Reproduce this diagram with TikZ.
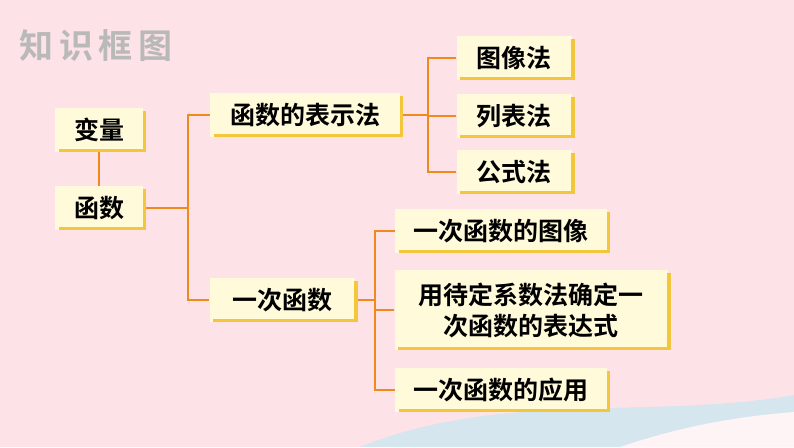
\documentclass[tikz,border=0pt]{standalone}
\usepackage{fontspec}
\newfontfamily\cjk{Noto Sans CJK SC}
\newfontfamily\cjkb{Noto Sans CJK SC Bold}
\definecolor{bg}{HTML}{FDE3E8}
\definecolor{wave}{HTML}{D6E6EE}
\definecolor{boxf}{HTML}{FFFBDA}
\definecolor{shad}{HTML}{F4C63C}
\definecolor{ln}{HTML}{EE8A1E}
\tikzset{
 bx/.style={fill=boxf, minimum height=44pt, inner xsep=6pt, font=\cjkb\fontsize{25}{31}\selectfont, text=black},
 cn/.style={draw=ln, line width=2pt},
 sh/.style={draw=shad, line width=3.5pt}
}
\begin{document}
\begin{tikzpicture}[x=1pt,y=-1pt]
\fill[bg] (0,0) rectangle (794,447);
\fill[wave] (360,447) .. controls (500,390) and (650,420) .. (794,395) -- (794,447) -- cycle;
\fill[white!60!bg] (620,447) .. controls (700,420) and (760,415) .. (794,412) -- (794,447) -- cycle;
\node[font=\cjkb\fontsize{34}{34}\selectfont, text=gray!55, anchor=west] (t) at (16,46) {知\,识\,框\,图};
\node[bx, minimum width=88pt] (bl) at (99,130) {变量};
\node[bx, minimum width=88pt] (hs) at (99,208) {函数};
\node[bx, minimum width=190pt] (bs) at (305,115) {函数的表示法};
\node[bx, minimum width=145pt] (yc) at (282,300) {一次函数};
\node[bx, minimum width=115pt] (tx) at (514,58) {图像法};
\node[bx, minimum width=115pt] (lb) at (514,116) {列表法};
\node[bx, minimum width=115pt] (gs) at (514,172) {公式法};
\node[bx, minimum width=212pt] (y1) at (501,231) {一次函数的图像};
\node[bx, minimum width=273pt, minimum height=80pt, align=center] (y2) at (531,310) {用待定系数法确定一\\次函数的表达式};
\node[bx, minimum width=212pt] (y3) at (501,390) {一次函数的应用};
\foreach \n in {bl,hs,bs,yc,tx,lb,gs,y1,y2,y3}
  \draw[sh] ([xshift=1.5pt,yshift=-3pt]\n.north east) -- ([xshift=1.5pt,yshift=1.5pt]\n.south east) -- ([xshift=4pt,yshift=1.5pt]\n.south west);
\coordinate (j1) at (188,208);
\coordinate (j2) at (428,115);
\coordinate (j3) at (375,300);
\draw[cn] (bl.south) -- (hs.north);
\draw[cn] ([xshift=3pt]hs.east) -- (j1);
\draw[cn] (bs.west) -| (j1) |- (yc.west);
\draw[cn] ([xshift=3pt]bs.east) -- (j2);
\draw[cn] (tx.west) -| (j2) |- (gs.west);
\draw[cn] (lb.west) -- (j2 |- lb.west);
\draw[cn] ([xshift=3pt]yc.east) -- (j3);
\draw[cn] (y1.west) -| (j3) |- (y3.west);
\draw[cn] (y2.west) -- (j3 |- y2.west);
\end{tikzpicture}
\end{document}
